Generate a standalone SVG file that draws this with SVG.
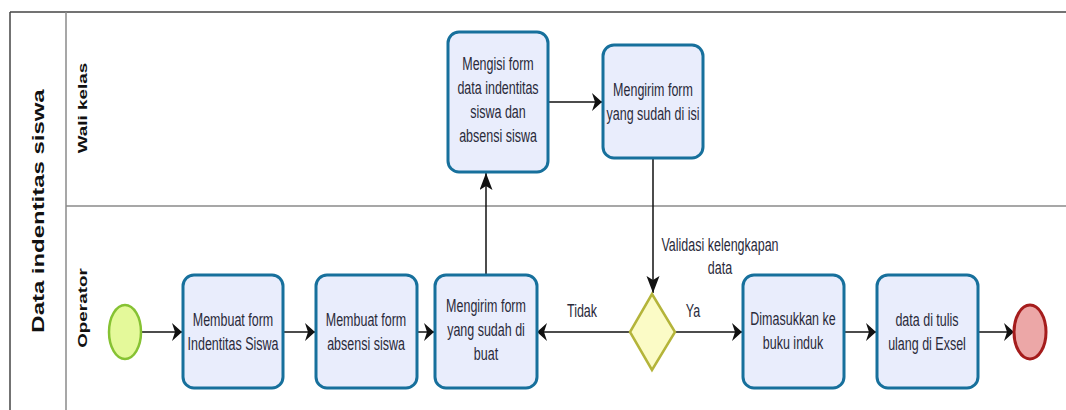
<svg xmlns="http://www.w3.org/2000/svg" width="1066" height="410" viewBox="0 0 1066 410">
<style>
.pool{stroke:#444;stroke-width:1.5;fill:none}
.lane{stroke:#8a8a8a;stroke-width:1.5;fill:none}
.task{fill:#e9edfc;stroke:#17709c;stroke-width:3}
.t{font-family:"Liberation Sans",Arial,sans-serif;font-size:12.5px;fill:#2a2a3a;text-anchor:middle}
.lbl{font-family:"Liberation Sans",Arial,sans-serif;font-weight:bold;fill:#111;text-anchor:middle}
.conn{stroke:#111;stroke-width:1.5;fill:none}
</style>
<defs>
<marker id="aH" markerUnits="userSpaceOnUse" markerWidth="11" markerHeight="19" refX="10" refY="9" orient="auto" viewBox="0 0 11 19">
<path d="M0,0 L10,9 L0,18 L3,9 Z" fill="#111"/>
</marker>
<marker id="aV" markerUnits="userSpaceOnUse" markerWidth="18" markerHeight="14" refX="17" refY="6.5" orient="auto" viewBox="0 0 18 14">
<path d="M0,0 L17,6.5 L0,13 L4,6.5 Z" fill="#111"/>
</marker>
</defs>
<g id="pool">
<line class="pool" x1="10" y1="12" x2="1066" y2="12"/>
<line class="pool" x1="10" y1="12" x2="10" y2="410"/>
<line class="lane" x1="66" y1="12" x2="66" y2="410"/>
<line class="lane" x1="66" y1="206" x2="1066" y2="206"/>
<text class="lbl" font-size="16.5" transform="translate(44,211) rotate(-90) scale(1.45,1)">Data indentitas siswa</text>
<text class="lbl" font-size="13" transform="translate(87,108) rotate(-90) scale(1.45,1)">Wali kelas</text>
<text class="lbl" font-size="13" transform="translate(87,308) rotate(-90) scale(1.45,1)">Operator</text>
</g>
<g id="connectors">
<line class="conn" x1="141" y1="332" x2="182" y2="332" marker-end="url(#aH)"/>
<line class="conn" x1="284" y1="332" x2="315" y2="332" marker-end="url(#aH)"/>
<line class="conn" x1="417" y1="332" x2="434" y2="332" marker-end="url(#aH)"/>
<line class="conn" x1="486" y1="275" x2="486" y2="173" marker-end="url(#aV)"/>
<line class="conn" x1="548" y1="102" x2="602" y2="102" marker-end="url(#aH)"/>
<line class="conn" x1="653" y1="158" x2="653" y2="293" marker-end="url(#aV)"/>
<line class="conn" x1="630" y1="332" x2="537" y2="332" marker-end="url(#aH)"/>
<line class="conn" x1="675" y1="332" x2="742" y2="332" marker-end="url(#aH)"/>
<line class="conn" x1="844" y1="332" x2="876" y2="332" marker-end="url(#aH)"/>
<line class="conn" x1="978" y1="332" x2="1014" y2="332" marker-end="url(#aH)"/>
<text class="t" transform="translate(720,251) scale(1,1.45)"><tspan x="0">Validasi kelengkapan</tspan><tspan x="0" dy="16">data</tspan></text>
<text class="t" transform="translate(582,317) scale(1,1.45)">Tidak</text>
<text class="t" transform="translate(693,317) scale(1,1.45)">Ya</text>
</g>
<g id="start">
<ellipse cx="125" cy="332" rx="16" ry="27" fill="#e4f99a" stroke="#86c233" stroke-width="2.5"/>
</g>
<g id="task1">
<rect class="task" x="183" y="275" width="100" height="113" rx="11"/>
<text class="t" transform="translate(233,326) scale(1,1.45)"><tspan x="0">Membuat form</tspan><tspan x="0" dy="16.5">Indentitas Siswa</tspan></text>
</g>
<g id="task2">
<rect class="task" x="316" y="275" width="101" height="113" rx="11"/>
<text class="t" transform="translate(366,326) scale(1,1.45)"><tspan x="0">Membuat form</tspan><tspan x="0" dy="16.5">absensi siswa</tspan></text>
</g>
<g id="task3">
<rect class="task" x="435" y="275" width="102" height="113" rx="11"/>
<text class="t" transform="translate(486,312) scale(1,1.45)"><tspan x="0">Mengirim form</tspan><tspan x="0" dy="16.5">yang sudah di</tspan><tspan x="0" dy="16.5">buat</tspan></text>
</g>
<g id="task6">
<rect class="task" x="448" y="32" width="100" height="140" rx="11"/>
<text class="t" transform="translate(498,70) scale(1,1.45)"><tspan x="0">Mengisi form</tspan><tspan x="0" dy="16.5">data indentitas</tspan><tspan x="0" dy="16.5">siswa dan</tspan><tspan x="0" dy="16.5">absensi siswa</tspan></text>
</g>
<g id="task7">
<rect class="task" x="603" y="45" width="100" height="113" rx="11"/>
<text class="t" transform="translate(653,96) scale(1,1.45)"><tspan x="0">Mengirim form</tspan><tspan x="0" dy="16.5">yang sudah di isi</tspan></text>
</g>
<g id="gateway">
<polygon points="652,294 675,332 652,370 630,332" fill="#fbfbc6" stroke="#b4b43a" stroke-width="2.5"/>
</g>
<g id="task4">
<rect class="task" x="743" y="275" width="101" height="113" rx="11"/>
<text class="t" transform="translate(793,325) scale(1,1.45)"><tspan x="0">Dimasukkan ke</tspan><tspan x="0" dy="16.5">buku induk</tspan></text>
</g>
<g id="task5">
<rect class="task" x="877" y="275" width="101" height="113" rx="11"/>
<text class="t" transform="translate(927,326) scale(1,1.45)"><tspan x="0">data di tulis</tspan><tspan x="0" dy="16.5">ulang di Exsel</tspan></text>
</g>
<g id="end">
<ellipse cx="1030" cy="332" rx="16" ry="27" fill="#eca7a7" stroke="#a51c1c" stroke-width="3"/>
</g>
</svg>
